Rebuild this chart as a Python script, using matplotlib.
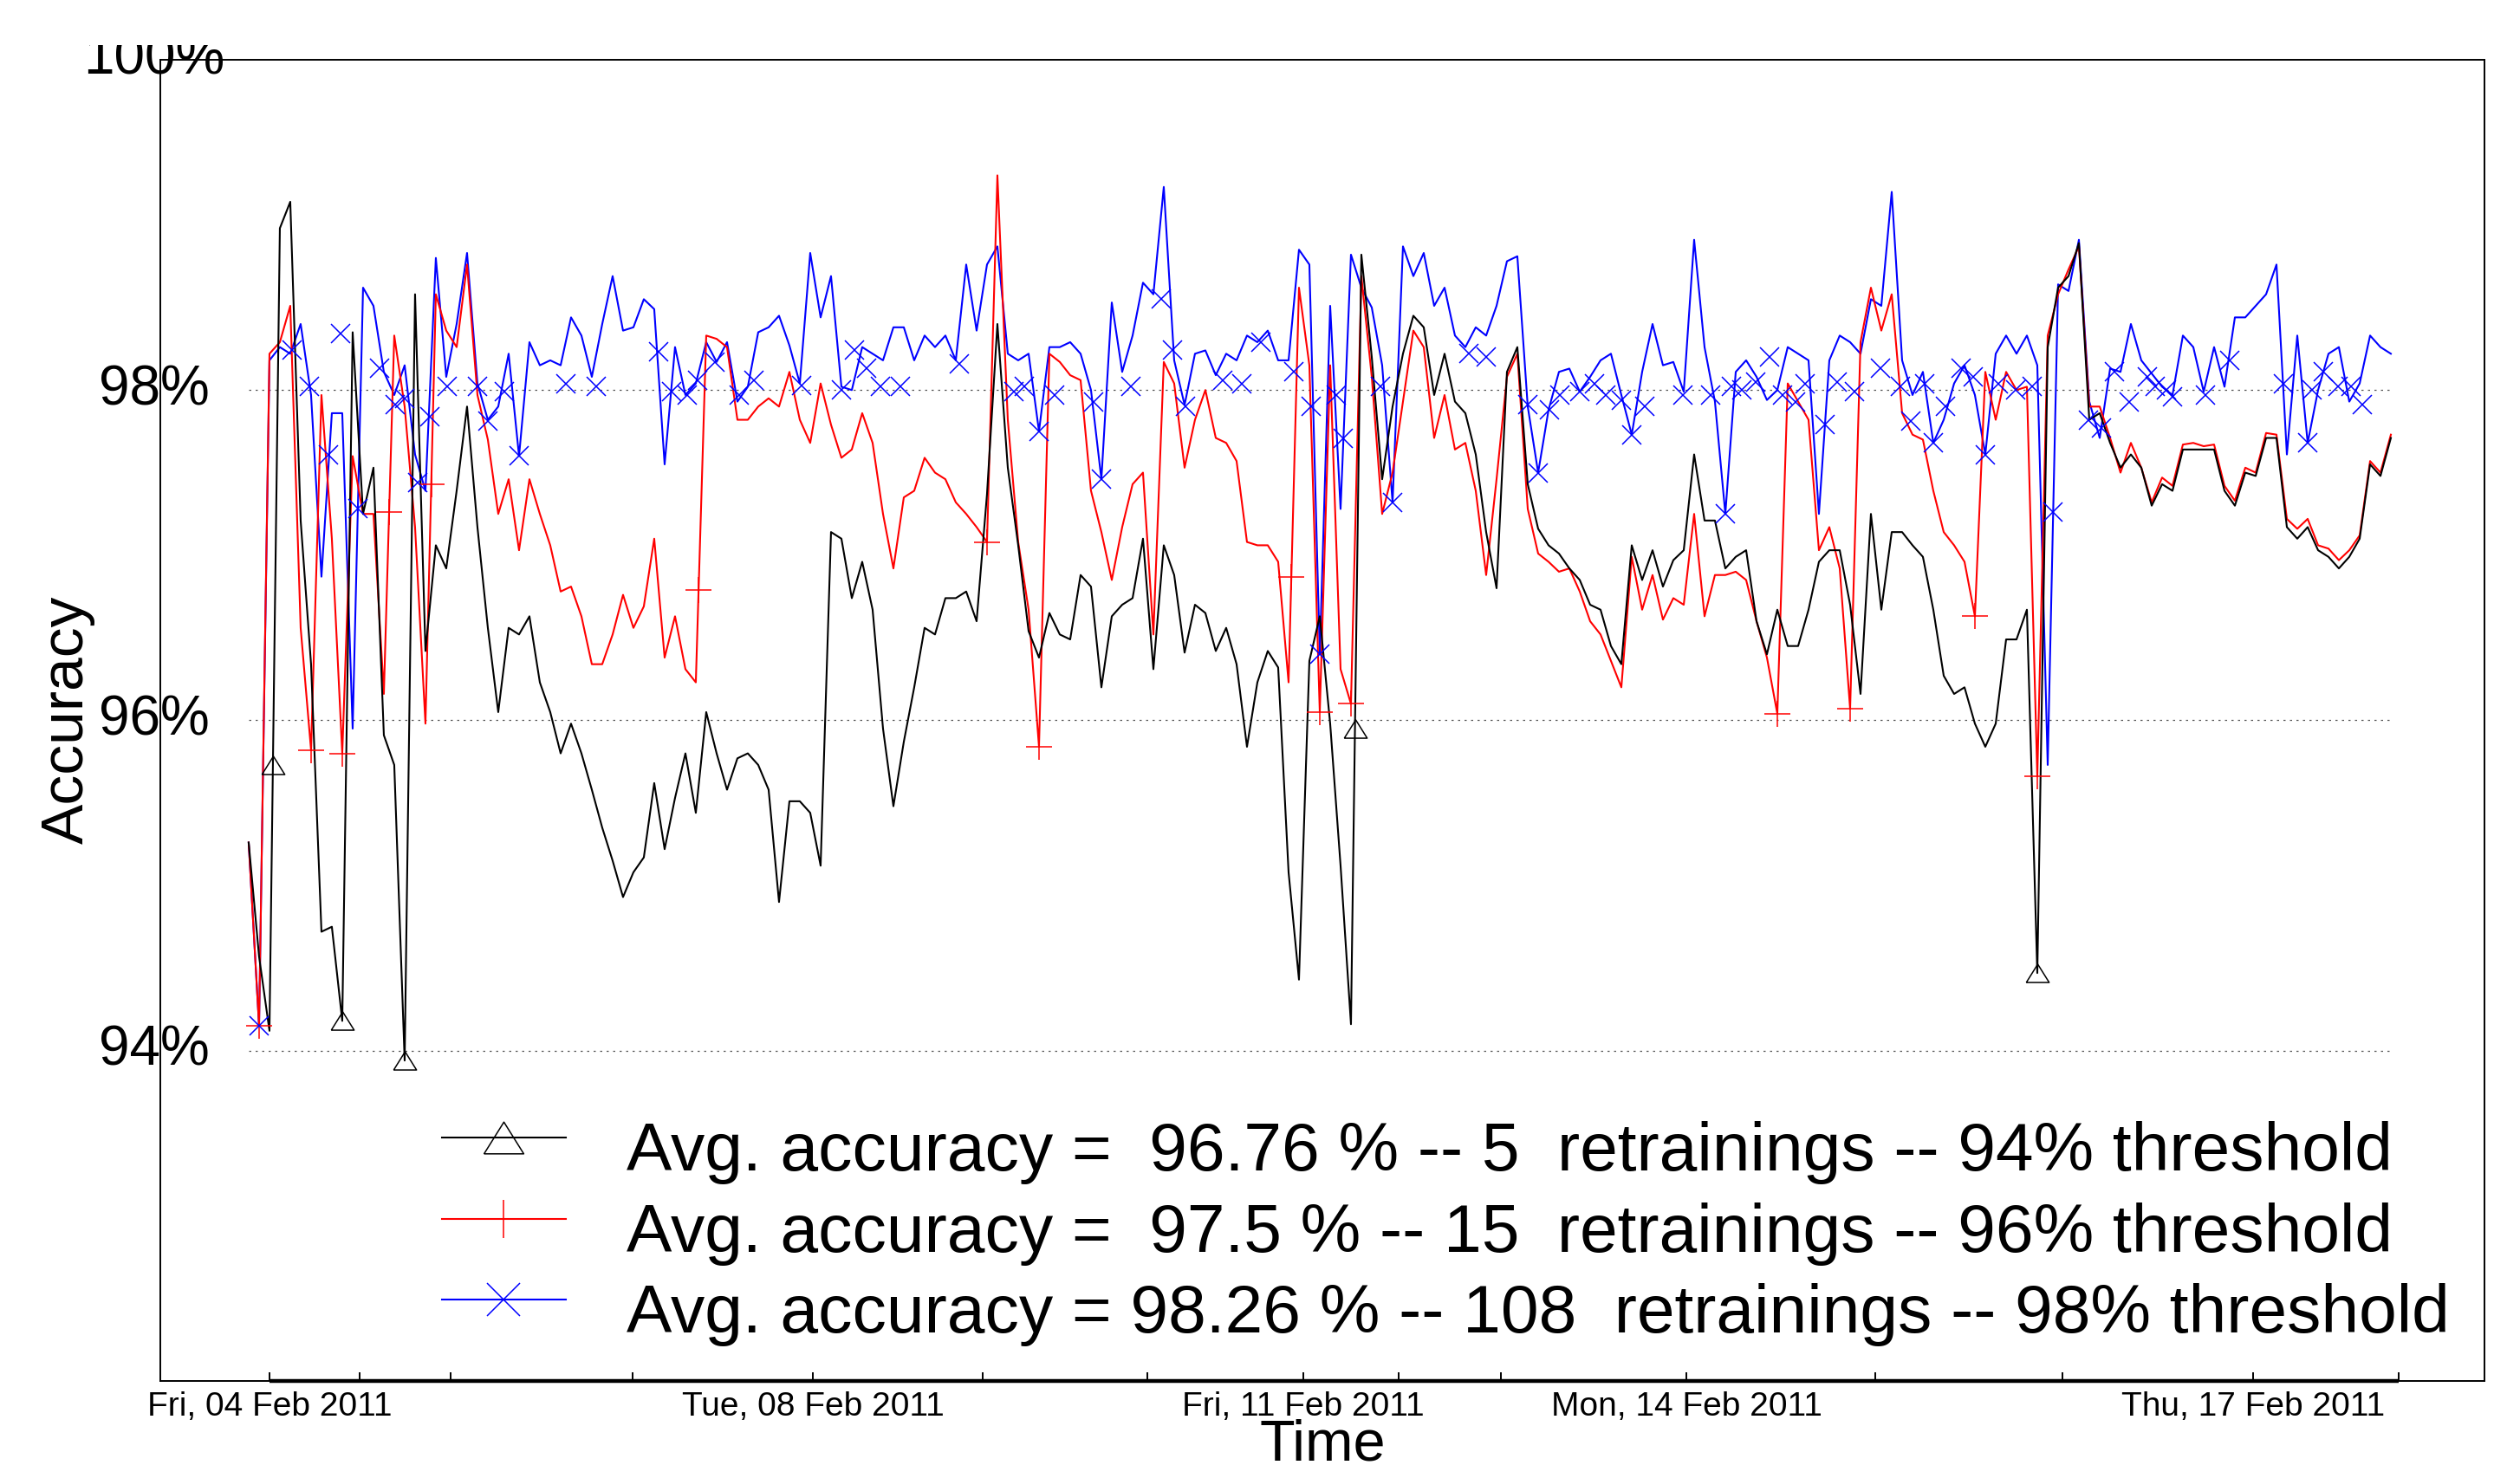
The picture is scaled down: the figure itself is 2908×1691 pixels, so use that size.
"""Accuracy over time for three retraining thresholds."""

import numpy as np
import matplotlib
matplotlib.use("Agg")
import matplotlib.pyplot as plt
from matplotlib.transforms import Bbox, TransformedBbox, blended_transform_factory

plt.rcParams["font.family"] = ["Liberation Sans", "DejaVu Sans"]

# ── Data (accuracy in %, one reading every 3 samples) ───────────────────────
STEP = 3

ACC_94 = [
    95.26, 94.57, 94.12, 98.98, 99.14, 97.21, 96.34, 94.72, 94.75, 94.18,
    98.35, 97.25, 97.53, 95.91, 95.73, 93.94, 98.58, 96.42, 97.06, 96.92,
    97.39, 97.90, 97.17, 96.56, 96.05, 96.56, 96.52, 96.63, 96.23, 96.05,
    95.80, 95.98, 95.80, 95.58, 95.35, 95.15, 94.93, 95.08, 95.17, 95.62,
    95.22, 95.53, 95.80, 95.44, 96.05, 95.80, 95.58, 95.77, 95.80, 95.73,
    95.58, 94.90, 95.51, 95.51, 95.44, 95.12, 97.14, 97.10, 96.74, 96.96,
    96.67, 95.95, 95.48, 95.87, 96.20, 96.56, 96.52, 96.74, 96.74, 96.78,
    96.60, 97.37, 98.40, 97.53, 97.06, 96.54, 96.38, 96.65, 96.52, 96.49,
    96.88, 96.81, 96.20, 96.63, 96.70, 96.74, 97.10, 96.31, 97.06, 96.88,
    96.41, 96.70, 96.65, 96.42, 96.56, 96.34, 95.84, 96.23, 96.42, 96.32,
    95.08, 94.43, 96.36, 96.63, 95.98, 95.12, 94.16, 98.82, 98.20, 97.46,
    97.90, 98.22, 98.45, 98.38, 97.97, 98.22, 97.93, 97.86, 97.61, 97.14,
    96.80, 98.11, 98.26, 97.43, 97.16, 97.06, 97.01, 96.92, 96.85, 96.70,
    96.67, 96.45, 96.34, 97.06, 96.85, 97.03, 96.81, 96.97, 97.03, 97.61,
    97.21, 97.21, 96.92, 96.99, 97.03, 96.60, 96.40, 96.67, 96.45, 96.45,
    96.67, 96.96, 97.03, 97.03, 96.70, 96.16, 97.25, 96.67, 97.14, 97.14,
    97.06, 96.99, 96.67, 96.27, 96.16, 96.20, 95.98, 95.84, 95.98, 96.49,
    96.49, 96.67, 94.47, 98.26, 98.62, 98.69, 98.89, 97.82, 97.86, 97.68,
    97.53, 97.61, 97.53, 97.30, 97.43, 97.39, 97.64, 97.64, 97.64, 97.64,
    97.39, 97.30, 97.50, 97.48, 97.71, 97.71, 97.17, 97.10, 97.17, 97.03,
    96.99, 96.92, 96.99, 97.10, 97.55, 97.48, 97.71,
]

ACC_96 = [
    95.26, 94.15, 98.22, 98.29, 98.51, 96.56, 95.82, 97.97, 97.10, 95.80,
    97.60, 97.25, 97.25, 96.16, 98.33, 97.90, 97.17, 95.98, 98.58, 98.36,
    98.26, 98.76, 97.97, 97.70, 97.25, 97.46, 97.03, 97.46, 97.25, 97.06,
    96.78, 96.81, 96.63, 96.34, 96.34, 96.52, 96.76, 96.56, 96.69, 97.10,
    96.38, 96.63, 96.31, 96.23, 98.33, 98.31, 98.26, 97.82, 97.82, 97.90,
    97.95, 97.90, 98.11, 97.82, 97.68, 98.04, 97.79, 97.59, 97.64, 97.86,
    97.68, 97.25, 96.92, 97.35, 97.39, 97.59, 97.50, 97.46, 97.32, 97.25,
    97.17, 97.08, 99.30, 97.82, 97.08, 96.67, 95.84, 98.22, 98.17, 98.09,
    98.06, 97.39, 97.14, 96.85, 97.17, 97.43, 97.50, 96.52, 98.17, 98.04,
    97.53, 97.82, 98.00, 97.71, 97.68, 97.57, 97.08, 97.06, 97.06, 96.96,
    96.23, 98.62, 98.15, 96.05, 98.15, 96.31, 96.10, 98.69, 98.08, 97.25,
    97.50, 97.93, 98.36, 98.26, 97.71, 97.97, 97.64, 97.68, 97.39, 96.88,
    97.46, 98.08, 98.22, 97.28, 97.01, 96.96, 96.90, 96.92, 96.78, 96.60,
    96.52, 96.36, 96.20, 96.99, 96.67, 96.88, 96.61, 96.74, 96.70, 97.25,
    96.63, 96.88, 96.88, 96.90, 96.85, 96.60, 96.38, 96.04, 98.04, 97.93,
    97.82, 97.03, 97.17, 96.92, 96.07, 98.29, 98.62, 98.36, 98.58, 97.86,
    97.73, 97.70, 97.39, 97.14, 97.06, 96.96, 96.63, 98.11, 97.82, 98.11,
    98.00, 98.02, 95.66, 98.33, 98.58, 98.73, 98.87, 97.90, 97.90, 97.71,
    97.50, 97.68, 97.53, 97.32, 97.47, 97.42, 97.67, 97.68, 97.66, 97.67,
    97.42, 97.33, 97.53, 97.50, 97.74, 97.73, 97.22, 97.16, 97.22, 97.06,
    97.04, 96.97, 97.03, 97.12, 97.57, 97.50, 97.73,
]

ACC_98 = [
    95.26, 94.15, 98.18, 98.26, 98.22, 98.40, 97.97, 96.87, 97.86, 97.86,
    95.95, 98.62, 98.51, 98.11, 97.97, 98.15, 97.61, 97.39, 98.80, 98.08,
    98.40, 98.83, 98.04, 97.82, 97.90, 98.22, 97.60, 98.29, 98.15, 98.18,
    98.15, 98.44, 98.33, 98.08, 98.40, 98.69, 98.36, 98.38, 98.55, 98.49,
    97.55, 98.26, 97.97, 98.04, 98.29, 98.17, 98.29, 97.93, 98.02, 98.35,
    98.38, 98.45, 98.27, 98.04, 98.83, 98.44, 98.69, 98.02, 98.00, 98.26,
    98.22, 98.18, 98.38, 98.38, 98.18, 98.33, 98.26, 98.33, 98.18, 98.76,
    98.36, 98.76, 98.87, 98.22, 98.18, 98.22, 97.75, 98.26, 98.26, 98.29,
    98.22, 98.00, 97.46, 98.53, 98.11, 98.33, 98.65, 98.58, 99.23, 98.18,
    97.91, 98.22, 98.24, 98.09, 98.22, 98.18, 98.33, 98.29, 98.36, 98.18,
    98.18, 98.85, 98.76, 96.40, 98.51, 97.28, 98.82, 98.62, 98.50, 98.15,
    97.32, 98.87, 98.69, 98.83, 98.51, 98.62, 98.33, 98.26, 98.38, 98.33,
    98.51, 98.78, 98.81, 97.90, 97.50, 97.88, 98.11, 98.13, 97.99, 98.08,
    98.18, 98.22, 97.97, 97.73, 98.11, 98.40, 98.15, 98.17, 97.99, 98.91,
    98.26, 97.93, 97.25, 98.11, 98.18, 98.08, 97.94, 98.00, 98.26, 98.22,
    98.18, 97.25, 98.18, 98.33, 98.29, 98.22, 98.55, 98.51, 99.20, 98.18,
    97.97, 98.11, 97.68, 97.82, 98.04, 98.15, 97.97, 97.61, 98.22, 98.33,
    98.22, 98.33, 98.15, 95.73, 98.64, 98.60, 98.91, 97.93, 97.71, 98.13,
    98.11, 98.40, 98.18, 98.10, 98.02, 97.97, 98.33, 98.26, 97.99, 98.26,
    98.02, 98.44, 98.44, 98.51, 98.58, 98.76, 97.61, 98.33, 97.68, 98.00,
    98.22, 98.26, 97.93, 98.04, 98.33, 98.26, 98.22,
]

# retraining events (sample, accuracy)
RT94_T = [7.0, 27.0, 45.0, 319.2, 516.0]
RT94_V = [95.73, 94.18, 93.94, 95.95, 94.47]

RT96_T = [3.0, 18.0, 27.0, 40.5, 52.7, 129.8, 213.0, 228.0, 300.8, 309.0,
          318.0, 441.0, 462.0, 498.0, 516.0]
RT96_V = [94.15, 95.82, 95.80, 97.26, 97.43, 96.79, 97.08, 95.84, 96.87, 96.05,
          96.10, 96.04, 96.07, 96.63, 95.66]

RT98_T = [3.0, 12.4, 17.6, 23.0, 26.4, 31.5, 37.7, 42.2, 44.9, 48.8,
          52.2, 57.3, 65.9, 69.1, 73.7, 78.0, 91.6, 100.3, 118.3, 122.0,
          126.4, 129.5, 134.5, 141.6, 145.8, 159.5, 170.9, 174.8, 178.3, 182.3,
          188.0, 204.9, 220.8, 223.7, 228.0, 232.4, 243.8, 246.0, 254.5, 263.3,
          266.4, 270.3, 281.0, 286.6, 292.0, 301.6, 306.6, 309.0, 313.7, 315.8,
          326.6, 330.0, 352.0, 357.0, 369.1, 372.0, 375.3, 378.3, 384.1, 388.3,
          391.6, 396.0, 399.0, 402.8, 413.7, 421.8, 426.0, 427.8, 430.8, 434.8,
          438.7, 442.4, 446.2, 449.1, 454.7, 458.3, 463.3, 470.8, 476.6, 479.5,
          483.4, 486.0, 489.5, 494.1, 497.4, 501.0, 504.8, 509.8, 514.5, 520.6,
          530.8, 534.5, 538.3, 542.4, 547.8, 550.1, 553.3, 555.1, 564.5, 571.6,
          587.0, 594.0, 595.3, 598.5, 602.7, 606.6, 609.8]
RT98_V = [94.15, 98.24, 98.02, 97.61, 98.34, 97.28, 98.13, 97.91, 97.95, 97.44,
          97.84, 98.02, 98.02, 97.81, 97.99, 97.60, 98.04, 98.02, 98.23, 97.99,
          97.97, 98.06, 98.17, 97.97, 98.06, 98.03, 98.00, 98.24, 98.13, 98.02,
          98.02, 98.16, 97.99, 98.02, 97.75, 97.97, 97.93, 97.46, 98.02, 98.55,
          98.24, 97.90, 98.06, 98.04, 98.29, 98.11, 97.90, 96.40, 97.97, 97.71,
          98.02, 97.32, 98.22, 98.20, 97.91, 97.50, 97.88, 97.97, 97.99, 98.04,
          97.97, 97.94, 97.73, 97.90, 97.97, 97.97, 97.25, 98.02, 98.00, 98.05,
          98.20, 97.97, 97.93, 98.04, 97.79, 98.05, 97.99, 98.13, 98.02, 97.81,
          98.04, 97.68, 97.90, 98.13, 98.08, 97.61, 98.04, 98.00, 98.02, 97.26,
          97.82, 97.77, 98.11, 97.93, 98.08, 98.02, 98.00, 97.96, 97.97, 98.18,
          98.04, 97.68, 98.00, 98.11, 98.02, 98.02, 97.91]

TICK_POS = [6.0, 32.0, 58.25, 110.75, 162.75, 211.75, 259.25, 304.25,
            331.75, 361.25, 414.75, 469.25, 523.25, 578.25, 620.25]
TICK_LABELS = ["Fri, 04 Feb 2011", "", "", "", "Tue, 08 Feb 2011", "", "",
               "Fri, 11 Feb 2011", "", "", "Mon, 14 Feb 2011", "", "",
               "Thu, 17 Feb 2011", ""]
Y_TICKS = [94, 96, 98, 100]
Y_GRID = [94, 96, 98]

LABELS = [
    "Avg. accuracy =  96.76 % -- 5  retrainings -- 94% threshold",
    "Avg. accuracy =  97.5 % -- 15  retrainings -- 96% threshold",
    "Avg. accuracy = 98.26 % -- 108  retrainings -- 98% threshold",
]

assert len(ACC_94) == len(ACC_96) == len(ACC_98)
assert len(RT96_T) == len(RT96_V) and len(RT98_T) == len(RT98_V)
t = np.arange(len(ACC_94)) * STEP

# ── Markers ──────────────────────────────────────────────────────────────────
TRI = [(-1, -0.8), (1, -0.8), (0, 0.8), (-1, -0.8)]
series = [
    (ACC_94, RT94_T, RT94_V, "black", TRI, 19, 33),
    (ACC_96, RT96_T, RT96_V, "#ff0000", "+", 21, 32),
    (ACC_98, RT98_T, RT98_V, "#0000ff", "x", 16, 28),
]

# ── Plot ────────────────────────────────────────────────────────────────────
fig = plt.figure(figsize=(29.08, 16.91), dpi=100)
ax = fig.add_axes([0.0636, 0.0574, 0.9223, 0.9018])
YMIN, YMAX = 92.0, 100.0
ax.set_xlim(-25.5, 645)
ax.set_ylim(YMIN, YMAX)

ax.hlines(Y_GRID, t[0], t[-1], colors="#555555", linestyles=(0, (2, 4)),
          linewidth=0.9, zorder=1)

for z, (vals, rt_t, rt_v, col, mk, ms, _) in zip([4, 3, 2], series):
    ax.plot(t, vals, color=col, lw=1.5, zorder=z)
for vals, rt_t, rt_v, col, mk, ms, _ in series:
    ax.plot(rt_t, rt_v, ls="none", marker=mk, ms=ms, mfc="none", mec=col,
            mew=1.1, zorder=6)

# Assen
for sp in ax.spines.values():
    sp.set_linewidth(1.4)
ax.set_xticks(TICK_POS)
ax.set_xticklabels(TICK_LABELS)
ax.tick_params(axis="x", direction="in", length=7, width=1.4, pad=9,
               labelsize=28)
ax.set_yticks([])
ax.plot([TICK_POS[0], TICK_POS[-1]], [YMIN, YMIN], color="black", lw=3.2,
        solid_capstyle="butt", clip_on=False, zorder=7)

ytr = blended_transform_factory(ax.transAxes, ax.transData)
clip = TransformedBbox(Bbox([[0, 0], [1, 1 - 52 / 1691]]), fig.transFigure)
for v in Y_TICKS:
    txt = ax.text(-0.0026, v, f"{v}%", transform=ytr, ha="center", va="center",
                  fontsize=46, zorder=8)
    txt.set_clip_box(clip)
    txt.set_clip_on(True)

fig.text(78 / 2908, 1 - 831 / 1691, "Accuracy", rotation=90, ha="center",
         va="center", fontsize=50)
fig.text(1526 / 2908, 5 / 1691, "Time", ha="center", va="baseline", fontsize=48)

# Legenda
handle_y = [0.1843, 0.1226, 0.0616]
text_y = [0.1593, 0.0977, 0.0367]
for hy, ty, lbl, (vals, rt_t, rt_v, col, mk, ms, lms) in zip(
        handle_y, text_y, LABELS, series):
    ax.plot([0.1212, 0.1745], [hy, hy], color=col, lw=1.5,
            transform=ax.transAxes, clip_on=False)
    ax.plot([0.1478], [hy], marker=mk, ms=lms, mfc="none", mec=col, mew=1.1,
            transform=ax.transAxes, clip_on=False)
    ax.text(0.2006, ty, lbl, transform=ax.transAxes, ha="left", va="baseline",
            fontsize=56.5)

fig.savefig("out.png", dpi=100)
plt.close(fig)
